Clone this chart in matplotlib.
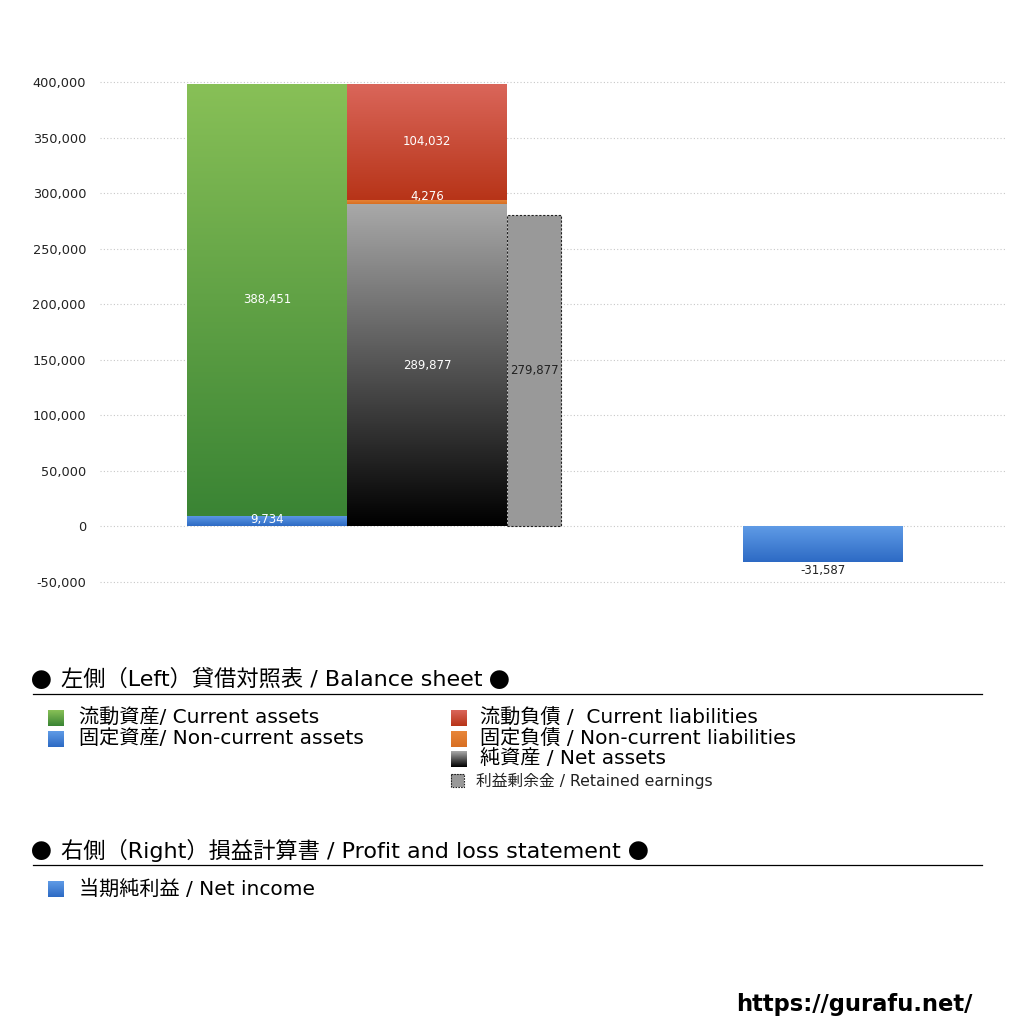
import numpy as np
import matplotlib
matplotlib.use("Agg")
import matplotlib.pyplot as plt
from matplotlib.colors import LinearSegmentedColormap
from matplotlib.patches import Rectangle
from matplotlib.ticker import FuncFormatter

plt.rcParams['font.family'] = ['DejaVu Sans', 'Noto Sans CJK JP']

# ---- data ----
current_assets = 388451
noncurrent_assets = 9734
current_liabilities = 104032
noncurrent_liabilities = 4276
net_assets = 289877
retained_earnings = 279877
net_income = -31587

yticks = list(range(-50000, 400001, 50000))

# colors (top, bottom)
C_GREEN = ('#88c057', '#3a8434')
C_BLUE = ('#5f9be6', '#2d6ac4')
C_RED = ('#da665a', '#b73418')
C_ORANGE = ('#e8863a', '#d86f22')
C_BLACK = ('#a9a9a9', '#000000')
C_GRAY = '#999999'

fig = plt.figure(figsize=(10.24, 10.24), dpi=100)

# main axes placement (pixel based layout)
W = H = 1024.0
ax_left, ax_right = 100, 1005
ymin, ymax = -55000, 405000
px_per = (582 - 82) / 450000.0
top_px = 82 - (ymax - 400000) * px_per
bot_px = 582 + (-50000 - ymin) * px_per
ax = fig.add_axes([ax_left / W, 1 - bot_px / H, (ax_right - ax_left) / W, (bot_px - top_px) / H])

def frac(px):
    return (px - ax_left) / (ax_right - ax_left)

bw = 160 / (ax_right - ax_left)
x_assets = frac(267)
x_liab = frac(427)
x_ret = frac(534)
rw = 54 / (ax_right - ax_left)
x_ni = frac(823)


def grad_bar(x, bottom, height, width, ctop, cbot, z=2):
    bar = ax.bar(x, height, width, bottom=bottom, color='none', edgecolor='none', zorder=z)[0]
    cmap = LinearSegmentedColormap.from_list('g', [cbot, ctop])
    g = np.linspace(0, 1, 256).reshape(-1, 1)
    y0, y1 = sorted([bottom, bottom + height])
    im = ax.imshow(g, extent=[x - width / 2, x + width / 2, y0, y1], origin='lower',
                   cmap=cmap, aspect='auto', zorder=z, interpolation='bilinear')
    im.set_clip_path(bar)
    return bar

# assets
grad_bar(x_assets, 0, noncurrent_assets, bw, *C_BLUE)
grad_bar(x_assets, noncurrent_assets, current_assets, bw, *C_GREEN)
# liabilities + net assets
grad_bar(x_liab, 0, net_assets, bw, *C_BLACK)
grad_bar(x_liab, net_assets, noncurrent_liabilities, bw, *C_ORANGE)
grad_bar(x_liab, net_assets + noncurrent_liabilities, current_liabilities, bw, *C_RED)
# retained earnings
ax.bar(x_ret, retained_earnings, rw, color=C_GRAY, edgecolor='#222222', linestyle=(0, (2, 1.5)),
       linewidth=0.8, zorder=2)
# net income
grad_bar(x_ni, 0, net_income, bw, *C_BLUE)

lab_kw = dict(ha='center', va='center', fontsize=8.5, zorder=5)
ax.text(x_assets, noncurrent_assets + current_assets / 2, f'{current_assets:,}', color='white', **lab_kw)
ax.text(x_assets, noncurrent_assets / 2 + 1500, f'{noncurrent_assets:,}', color='white', **lab_kw)
ax.text(x_liab, net_assets / 2, f'{net_assets:,}', color='white', **lab_kw)
ax.text(x_liab, net_assets + noncurrent_liabilities / 2 + 4500, f'{noncurrent_liabilities:,}', color='white', **lab_kw)
ax.text(x_liab, net_assets + noncurrent_liabilities + current_liabilities / 2, f'{current_liabilities:,}', color='white', **lab_kw)
ax.text(x_ret, retained_earnings / 2, f'{retained_earnings:,}', color='#222222', **lab_kw)
ax.text(x_ni, net_income - 8000, f'{net_income:,}', color='#222222', **lab_kw)

ax.set_xlim(0, 1)
ax.set_ylim(ymin, ymax)
ax.set_yticks(yticks)
ax.yaxis.set_major_formatter(FuncFormatter(lambda v, p: f'{int(v):,}'))
ax.tick_params(axis='y', length=0, pad=10, labelsize=9.3, labelcolor='#222222')
ax.set_xticks([])
for s in ax.spines.values():
    s.set_visible(False)
ax.grid(axis='y', color='#c8c8c8', linestyle=(0, (1, 2)), linewidth=0.8, zorder=0)
ax.set_axisbelow(True)

# ---- legend / annotation overlay in pixel coords ----
ov = fig.add_axes([0, 0, 1, 1], zorder=-1)
ov.set_xlim(0, W)
ov.set_ylim(H, 0)
ov.axis('off')

def grad_square(x0, y0, size, ctop, cbot, dashed=False):
    cmap = LinearSegmentedColormap.from_list('g', [cbot, ctop])
    g = np.linspace(0, 1, 64).reshape(-1, 1)
    ov.imshow(g, extent=[x0, x0 + size, y0 + size, y0], origin='lower', cmap=cmap, aspect='auto')
    if dashed:
        ov.add_patch(Rectangle((x0, y0), size, size, fill=False, edgecolor='#222222',
                               linestyle=(0, (1.5, 1)), linewidth=0.8))

item_kw = dict(fontsize=14.5, va='center', ha='left', color='black')
renderer = fig.canvas.get_renderer()

def header(y, body):
    dot_kw = dict(fontsize=15, va='center', ha='left', color='black', family=['Noto Sans CJK JP'])
    ov.text(31, y + 3, '●', **dot_kw)
    t = ov.text(61, y, body, fontsize=16, va='center', ha='left', color='black')
    bb = t.get_window_extent(renderer=renderer)
    ov.text(bb.x1 + 7, y + 3, '●', **dot_kw)

header(679, '左側（Left）貸借対照表 / Balance sheet')
ov.plot([33, 982], [694, 694], color='black', linewidth=0.9)

grad_square(48, 710, 16, *C_GREEN)
ov.text(79, 718, '流動資産/ Current assets', **item_kw)
grad_square(48, 731, 16, *C_BLUE)
ov.text(79, 739, '固定資産/ Non-current assets', **item_kw)

grad_square(451, 710, 16, *C_RED)
ov.text(480, 718, '流動負債 /  Current liabilities', **item_kw)
grad_square(451, 731, 16, *C_ORANGE)
ov.text(480, 739, '固定負債 / Non-current liabilities', **item_kw)
grad_square(451, 751, 16, *C_BLACK)
ov.text(480, 759, '純資産 / Net assets', **item_kw)
grad_square(451, 774, 13, C_GRAY, C_GRAY, dashed=True)
ov.text(476, 781, '利益剰余金 / Retained earnings', fontsize=11.3, va='center', ha='left', color='#222222')

header(850, '右側（Right）損益計算書 / Profit and loss statement')
ov.plot([33, 982], [865, 865], color='black', linewidth=0.9)
grad_square(48, 881, 16, *C_BLUE)
ov.text(79, 889, '当期純利益 / Net income', **item_kw)

ov.text(972, 1004, 'https://gurafu.net/', fontsize=16.3, fontweight='bold', ha='right', va='center',
        color='black', family=['DejaVu Sans'])

fig.savefig('out.png', dpi=100)
